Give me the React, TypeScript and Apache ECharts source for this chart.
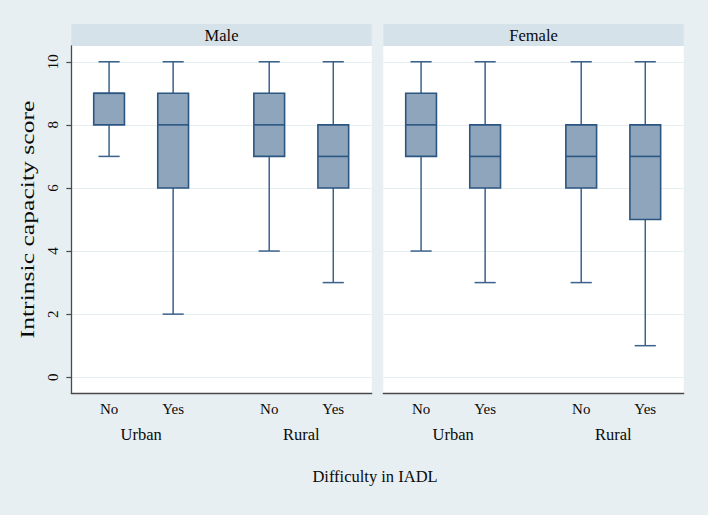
import React, { useEffect, useRef } from "react";
import * as echarts from "echarts";

// ---- Data ----
const panels = ["Male", "Female"];
const residence = ["Urban", "Rural"];
const iadl = ["No", "Yes"];
const xPositions = [0, 2, 5, 7]; // Urban-No, Urban-Yes, Rural-No, Rural-Yes
const groupCenters = [1, 6];
const yTicks = [0, 2, 4, 6, 8, 10];

const maleLow = [7, 2, 4, 3];
const maleQ1 = [8, 6, 7, 6];
const maleMedian = [9, 8, 8, 7];
const maleQ3 = [9, 9, 9, 8];
const maleHigh = [10, 10, 10, 10];

const femaleLow = [4, 3, 3, 1];
const femaleQ1 = [7, 6, 6, 5];
const femaleMedian = [8, 7, 7, 7];
const femaleQ3 = [9, 8, 8, 8];
const femaleHigh = [10, 10, 10, 10];

const FONT = "Liberation Serif";
const TEXT = "#0a0a0a";
const BG = "#e8eff2";
const STRIP = "#d6e2e9";
const BOX_FILL = "#8ea5bb";
const BOX_EDGE = "#2c5682";
const WHISKER = "#3a628c";

const gridTop = 46;
const gridHeight = 347;
const gridWidth = 300.4;
const gridLefts = [71.3, 383.3];
const stripTop = 24;

function buildData(low: number[], q1: number[], med: number[], q3: number[], high: number[]) {
  return xPositions.map((x, i) => [x, low[i], q1[i], med[i], q3[i], high[i]]);
}

const renderBox = (params: any, api: any) => {
  const x = api.value(0);
  const pLow = api.coord([x, api.value(1)]);
  const pQ1 = api.coord([x, api.value(2)]);
  const pMed = api.coord([x, api.value(3)]);
  const pQ3 = api.coord([x, api.value(4)]);
  const pHigh = api.coord([x, api.value(5)]);
  const unit = api.size([1, 0])[0];
  const bw = unit * 0.96;
  const cw = unit * 0.66;
  const cx = pLow[0];
  const wStyle = { stroke: WHISKER, lineWidth: 1.5, fill: null };
  const bStyle = { stroke: BOX_EDGE, lineWidth: 1.6 };
  return {
    type: "group",
    children: [
      { type: "line", shape: { x1: cx, y1: pHigh[1], x2: cx, y2: pQ3[1] }, style: wStyle },
      { type: "line", shape: { x1: cx, y1: pQ1[1], x2: cx, y2: pLow[1] }, style: wStyle },
      { type: "line", shape: { x1: cx - cw / 2, y1: pHigh[1], x2: cx + cw / 2, y2: pHigh[1] }, style: wStyle },
      { type: "line", shape: { x1: cx - cw / 2, y1: pLow[1], x2: cx + cw / 2, y2: pLow[1] }, style: wStyle },
      {
        type: "rect",
        shape: { x: cx - bw / 2, y: pQ3[1], width: bw, height: pQ1[1] - pQ3[1] },
        style: { fill: BOX_FILL, stroke: BOX_EDGE, lineWidth: 1.6 },
      },
      { type: "line", shape: { x1: cx - bw / 2, y1: pMed[1], x2: cx + bw / 2, y2: pMed[1] }, style: bStyle },
    ],
  };
};

export default function App() {
  const ref = useRef<HTMLDivElement>(null);

  useEffect(() => {
    if (!ref.current) return;
    const chart = echarts.init(ref.current, null, { renderer: "svg" });

    const grids = gridLefts.map((left) => ({
      left,
      top: gridTop,
      width: gridWidth,
      height: gridHeight,
      show: true,
      backgroundColor: "#ffffff",
      borderWidth: 0,
      containLabel: false,
    }));

    const xAxes: any[] = [];
    const yAxes: any[] = [];
    gridLefts.forEach((_, gi) => {
      xAxes.push({
        type: "value",
        gridIndex: gi,
        min: -1.18,
        max: 8.2,
        axisLine: { show: true, onZero: false, lineStyle: { color: "#4a4a4a", width: 1.3 } },
        axisTick: { show: false },
        splitLine: { show: false },
        axisLabel: {
          customValues: xPositions,
          formatter: (v: number) => iadl[xPositions.indexOf(v) % 2],
          fontFamily: FONT,
          fontSize: 15,
          color: TEXT,
          margin: 8,
        },
      });
      xAxes.push({
        type: "value",
        gridIndex: gi,
        position: "bottom",
        offset: 25,
        min: -1.18,
        max: 8.2,
        axisLine: { show: false, onZero: false },
        axisTick: { show: false },
        splitLine: { show: false },
        axisLabel: {
          customValues: groupCenters,
          formatter: (v: number) => residence[groupCenters.indexOf(v)],
          fontFamily: FONT,
          fontSize: 16.5,
          color: TEXT,
          margin: 8,
        },
      });
      yAxes.push({
        type: "value",
        gridIndex: gi,
        min: -0.5,
        max: 10.5,
        axisLine: { show: gi === 0, onZero: false, lineStyle: { color: "#4a4a4a", width: 1.3 } },
        axisTick: {
          show: gi === 0,
          customValues: yTicks,
          length: 5,
          lineStyle: { color: "#4a4a4a", width: 1.2 },
        },
        axisLabel: {
          show: gi === 0,
          customValues: yTicks,
          rotate: 90,
          fontFamily: FONT,
          fontSize: 15,
          color: TEXT,
          margin: 11,
        },
        splitLine: { show: true, lineStyle: { color: "#e4edf0", width: 1 } },
      });
    });

    const series = [
      {
        type: "custom",
        xAxisIndex: 0,
        yAxisIndex: 0,
        renderItem: renderBox,
        encode: { x: 0, y: [1, 2, 3, 4, 5] },
        data: buildData(maleLow, maleQ1, maleMedian, maleQ3, maleHigh),
        z: 5,
      },
      {
        type: "custom",
        xAxisIndex: 2,
        yAxisIndex: 1,
        renderItem: renderBox,
        encode: { x: 0, y: [1, 2, 3, 4, 5] },
        data: buildData(femaleLow, femaleQ1, femaleMedian, femaleQ3, femaleHigh),
        z: 5,
      },
    ];

    const graphic: any[] = [];
    gridLefts.forEach((left, i) => {
      graphic.push({
        type: "rect",
        x: left,
        y: stripTop,
        shape: { x: 0, y: 0, width: gridWidth, height: gridTop - stripTop },
        style: { fill: STRIP },
        silent: true,
      });
      graphic.push({
        type: "text",
        x: left + gridWidth / 2,
        y: (stripTop + gridTop) / 2 + 0.5,
        style: {
          text: panels[i],
          fontFamily: FONT,
          fontSize: 16.5,
          fill: TEXT,
          textAlign: "center",
          textVerticalAlign: "middle",
        },
        silent: true,
      });
    });
    graphic.push({
      type: "text",
      x: 28,
      y: gridTop + gridHeight / 2,
      rotation: Math.PI / 2,
      scaleX: 1.35,
      style: {
        text: "Intrinsic capacity score",
        fontFamily: FONT,
        fontSize: 19,
        fill: TEXT,
        textAlign: "center",
        textVerticalAlign: "middle",
      },
      silent: true,
    });
    graphic.push({
      type: "text",
      x: 375,
      y: 476,
      style: {
        text: "Difficulty in IADL",
        fontFamily: FONT,
        fontSize: 16.5,
        fill: TEXT,
        textAlign: "center",
        textVerticalAlign: "middle",
      },
      silent: true,
    });

    chart.setOption({
      animation: false,
      backgroundColor: BG,
      grid: grids,
      xAxis: xAxes,
      yAxis: yAxes,
      series,
      graphic,
    });

    return () => chart.dispose();
  }, []);

  return (
    <div
      ref={ref}
      style={{ position: "fixed", left: 0, top: 0, width: 708, height: 515 }}
    />
  );
}
